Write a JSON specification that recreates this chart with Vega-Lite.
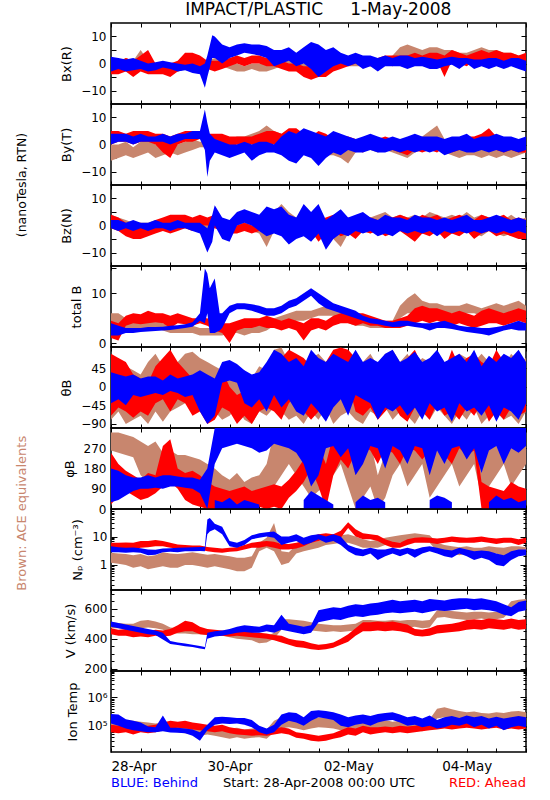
{
"$schema":"https://vega.github.io/schema/vega-lite/v6.json",
"padding":{"left":15,"top":0,"right":5,"bottom":5},
"bounds":"flush",
"spacing":0,
"title":{"text":"IMPACT/PLASTIC\u00a0\u00a0\u00a0\u00a0\u00a01-May-2008","anchor":"middle","offset":3,"dx":47},
"config":{
 "font":"DejaVu Sans",
 "view":{"stroke":"black","strokeWidth":1.5},
 "concat":{"spacing":0},
 "axis":{"domain":false,"grid":false,"tickColor":"black","tickWidth":1,"labelFont":"DejaVu Sans","labelFontSize":12,"labelColor":"black","titleFont":"DejaVu Sans","titleFontSize":13,"titleFontWeight":"normal","titleColor":"black"},
 "axisY":{"tickSize":-5,"labelPadding":10,"titlePadding":7},
 "axisX":{"tickSize":-4,"labelPadding":11,"titlePadding":4,"labelFontSize":13.5,"titleFontSize":13},
 "title":{"font":"DejaVu Sans","fontSize":17,"fontWeight":"normal","color":"black"}
},
"vconcat":[
{"width":415,"height":81,"data":{"name":"bx"},"layer":[
 {"mark":{"type":"area","color":"#c8866e","invalid":"filter","clip":true},"encoding":{"x":{"field":"t","type":"quantitative","scale":{"domain":[0,168],"nice":false,"zero":false},"axis":{"orient":"bottom","values":[0,12,24,36,48,60,72,84,96,108,120,132,144,156,168],"labels":false,"title":null}},"y":{"field":"al","type":"quantitative","scale":{"domain":[-15,15],"nice":false,"zero":false},"axis":{"orient":"left","title":"Bx(R)","values":[-10,-5,0,5,10],"labelExpr":"datum.value % 10 == 0 ? datum.label : ''"}},"y2":{"field":"ah"}}},
 {"mark":{"type":"area","color":"#ff0000","invalid":"filter","clip":true},"encoding":{"x":{"field":"t","type":"quantitative","axis":{"orient":"top","values":[0,12,24,36,48,60,72,84,96,108,120,132,144,156,168],"labels":false,"title":null}},"y":{"field":"rl","type":"quantitative","axis":{"orient":"right","values":[-10,-5,0,5,10],"labels":false,"title":null}},"y2":{"field":"rh"}}},
 {"mark":{"type":"area","color":"#0000ff","invalid":"filter","clip":true},"encoding":{"x":{"field":"t","type":"quantitative","axis":null},"y":{"field":"bl","type":"quantitative","axis":null},"y2":{"field":"bh"}}}
],"resolve":{"axis":{"x":"independent","y":"independent"}}},
{"width":415,"height":81,"data":{"name":"by"},"layer":[
 {"mark":{"type":"area","color":"#c8866e","invalid":"filter","clip":true},"encoding":{"x":{"field":"t","type":"quantitative","scale":{"domain":[0,168],"nice":false,"zero":false},"axis":{"orient":"bottom","values":[0,12,24,36,48,60,72,84,96,108,120,132,144,156,168],"labels":false,"title":null}},"y":{"field":"al","type":"quantitative","scale":{"domain":[-15,15],"nice":false,"zero":false},"axis":{"orient":"left","title":"By(T)","values":[-10,-5,0,5,10],"labelExpr":"datum.value % 10 == 0 ? datum.label : ''"}},"y2":{"field":"ah"}}},
 {"mark":{"type":"area","color":"#ff0000","invalid":"filter","clip":true},"encoding":{"x":{"field":"t","type":"quantitative","axis":{"orient":"top","values":[0,12,24,36,48,60,72,84,96,108,120,132,144,156,168],"labels":false,"title":null}},"y":{"field":"rl","type":"quantitative","axis":{"orient":"right","values":[-10,-5,0,5,10],"labels":false,"title":null}},"y2":{"field":"rh"}}},
 {"mark":{"type":"area","color":"#0000ff","invalid":"filter","clip":true},"encoding":{"x":{"field":"t","type":"quantitative","axis":null},"y":{"field":"bl","type":"quantitative","axis":null},"y2":{"field":"bh"}}},
 {"data":{"values":[{"label":"(nanoTesla, RTN)"}]},"mark":{"type":"text","angle":270,"align":"center","baseline":"middle","font":"DejaVu Sans","fontSize":12.5,"color":"black"},"encoding":{"text":{"field":"label"},"x":{"datum":-36,"type":"quantitative","axis":null},"y":{"datum":-15,"type":"quantitative","axis":null}}}
],"resolve":{"axis":{"x":"independent","y":"independent"}}},
{"width":415,"height":81,"data":{"name":"bz"},"layer":[
 {"mark":{"type":"area","color":"#c8866e","invalid":"filter","clip":true},"encoding":{"x":{"field":"t","type":"quantitative","scale":{"domain":[0,168],"nice":false,"zero":false},"axis":{"orient":"bottom","values":[0,12,24,36,48,60,72,84,96,108,120,132,144,156,168],"labels":false,"title":null}},"y":{"field":"al","type":"quantitative","scale":{"domain":[-15,15],"nice":false,"zero":false},"axis":{"orient":"left","title":"Bz(N)","values":[-10,-5,0,5,10],"labelExpr":"datum.value % 10 == 0 ? datum.label : ''"}},"y2":{"field":"ah"}}},
 {"mark":{"type":"area","color":"#ff0000","invalid":"filter","clip":true},"encoding":{"x":{"field":"t","type":"quantitative","axis":{"orient":"top","values":[0,12,24,36,48,60,72,84,96,108,120,132,144,156,168],"labels":false,"title":null}},"y":{"field":"rl","type":"quantitative","axis":{"orient":"right","values":[-10,-5,0,5,10],"labels":false,"title":null}},"y2":{"field":"rh"}}},
 {"mark":{"type":"area","color":"#0000ff","invalid":"filter","clip":true},"encoding":{"x":{"field":"t","type":"quantitative","axis":null},"y":{"field":"bl","type":"quantitative","axis":null},"y2":{"field":"bh"}}}
],"resolve":{"axis":{"x":"independent","y":"independent"}}},
{"width":415,"height":81,"data":{"name":"bt"},"layer":[
 {"mark":{"type":"area","color":"#c8866e","invalid":"filter","clip":true},"encoding":{"x":{"field":"t","type":"quantitative","scale":{"domain":[0,168],"nice":false,"zero":false},"axis":{"orient":"bottom","values":[0,12,24,36,48,60,72,84,96,108,120,132,144,156,168],"labels":false,"title":null}},"y":{"field":"al","type":"quantitative","scale":{"domain":[-0.8,15.5],"nice":false,"zero":false},"axis":{"orient":"left","title":"total B","values":[0,5,10,15],"labelExpr":"datum.value % 10 == 0 ? datum.label : ''"}},"y2":{"field":"ah"}}},
 {"mark":{"type":"area","color":"#ff0000","invalid":"filter","clip":true},"encoding":{"x":{"field":"t","type":"quantitative","axis":{"orient":"top","values":[0,12,24,36,48,60,72,84,96,108,120,132,144,156,168],"labels":false,"title":null}},"y":{"field":"rl","type":"quantitative","axis":{"orient":"right","values":[0,5,10,15],"labels":false,"title":null}},"y2":{"field":"rh"}}},
 {"mark":{"type":"area","color":"#0000ff","invalid":"filter","clip":true},"encoding":{"x":{"field":"t","type":"quantitative","axis":null},"y":{"field":"bl","type":"quantitative","axis":null},"y2":{"field":"bh"}}}
],"resolve":{"axis":{"x":"independent","y":"independent"}}},
{"width":415,"height":81,"data":{"name":"th"},"layer":[
 {"mark":{"type":"area","color":"#c8866e","invalid":"filter","clip":true},"encoding":{"x":{"field":"t","type":"quantitative","scale":{"domain":[0,168],"nice":false,"zero":false},"axis":{"orient":"bottom","values":[0,12,24,36,48,60,72,84,96,108,120,132,144,156,168],"labels":false,"title":null}},"y":{"field":"al","type":"quantitative","scale":{"domain":[-100,96.5],"nice":false,"zero":false},"axis":{"orient":"left","title":"θB","values":[-90,-45,0,45]}},"y2":{"field":"ah"}}},
 {"mark":{"type":"area","color":"#ff0000","invalid":"filter","clip":true},"encoding":{"x":{"field":"t","type":"quantitative","axis":{"orient":"top","values":[0,12,24,36,48,60,72,84,96,108,120,132,144,156,168],"labels":false,"title":null}},"y":{"field":"rl","type":"quantitative","axis":{"orient":"right","values":[-90,-45,0,45],"labels":false,"title":null}},"y2":{"field":"rh"}}},
 {"mark":{"type":"area","color":"#0000ff","invalid":"filter","clip":true},"encoding":{"x":{"field":"t","type":"quantitative","axis":null},"y":{"field":"bl","type":"quantitative","axis":null},"y2":{"field":"bh"}}}
],"resolve":{"axis":{"x":"independent","y":"independent"}}},
{"width":415,"height":81,"data":{"name":"ph"},"layer":[
 {"mark":{"type":"area","color":"#c8866e","invalid":"filter","clip":true},"encoding":{"x":{"field":"t","type":"quantitative","scale":{"domain":[0,168],"nice":false,"zero":false},"axis":{"orient":"bottom","values":[0,12,24,36,48,60,72,84,96,108,120,132,144,156,168],"labels":false,"title":null}},"y":{"field":"al","type":"quantitative","scale":{"domain":[0,360],"nice":false,"zero":false},"axis":{"orient":"left","title":"φB","values":[0,90,180,270]}},"y2":{"field":"ah"}}},
 {"mark":{"type":"area","color":"#ff0000","invalid":"filter","clip":true},"encoding":{"x":{"field":"t","type":"quantitative","axis":{"orient":"top","values":[0,12,24,36,48,60,72,84,96,108,120,132,144,156,168],"labels":false,"title":null}},"y":{"field":"rl","type":"quantitative","axis":{"orient":"right","values":[0,90,180,270],"labels":false,"title":null}},"y2":{"field":"rh"}}},
 {"mark":{"type":"area","color":"#0000ff","invalid":"filter","clip":true},"encoding":{"x":{"field":"t","type":"quantitative","axis":null},"y":{"field":"bl","type":"quantitative","axis":null},"y2":{"field":"bh"}}},
 {"data":{"name":"ph2"},"mark":{"type":"area","color":"#0000ff","invalid":"filter","clip":true},"encoding":{"x":{"field":"t","type":"quantitative","axis":null},"y":{"field":"lo","type":"quantitative","axis":null},"y2":{"field":"hi"},"detail":{"field":"g"}}}
],"resolve":{"axis":{"x":"independent","y":"independent"}}},
{"width":415,"height":81,"data":{"name":"np"},"layer":[
 {"mark":{"type":"area","color":"#c8866e","invalid":"filter","clip":true},"encoding":{"x":{"field":"t","type":"quantitative","scale":{"domain":[0,168],"nice":false,"zero":false},"axis":{"orient":"bottom","values":[0,12,24,36,48,60,72,84,96,108,120,132,144,156,168],"labels":false,"title":null}},"y":{"field":"al","type":"quantitative","scale":{"type":"log","domain":[0.131,93],"nice":false},"axis":{"orient":"left","title":"Nₚ (cm⁻³)","values":[0.2,0.3,0.4,0.5,0.6,0.7,0.8,0.9,1,2,3,4,5,6,7,8,9,10,20,30,40,50,60,70,80,90],"labelExpr":"datum.value==1?'1':datum.value==10?'10':''","tickSize":{"condition":{"test":"datum.value==1||datum.value==10","value":-6},"value":-3}}},"y2":{"field":"ah"}}},
 {"mark":{"type":"area","color":"#ff0000","invalid":"filter","clip":true},"encoding":{"x":{"field":"t","type":"quantitative","axis":{"orient":"top","values":[0,12,24,36,48,60,72,84,96,108,120,132,144,156,168],"labels":false,"title":null}},"y":{"field":"rl","type":"quantitative","axis":{"orient":"right","values":[0.2,0.3,0.4,0.5,0.6,0.7,0.8,0.9,1,2,3,4,5,6,7,8,9,10,20,30,40,50,60,70,80,90],"labels":false,"title":null,"tickSize":{"condition":{"test":"datum.value==1||datum.value==10","value":-6},"value":-3}}},"y2":{"field":"rh"}}},
 {"mark":{"type":"area","color":"#0000ff","invalid":"filter","clip":true},"encoding":{"x":{"field":"t","type":"quantitative","axis":null},"y":{"field":"bl","type":"quantitative","axis":null},"y2":{"field":"bh"}}},
 {"data":{"values":[{"label":"Brown: ACE equivalents"}]},"mark":{"type":"text","angle":270,"align":"center","baseline":"middle","font":"DejaVu Sans","fontSize":13,"color":"#c8866e"},"encoding":{"text":{"field":"label"},"x":{"datum":-36,"type":"quantitative","axis":null},"y":{"datum":66,"type":"quantitative","axis":null}}}
],"resolve":{"axis":{"x":"independent","y":"independent"}}},
{"width":415,"height":81,"data":{"name":"vv"},"layer":[
 {"mark":{"type":"area","color":"#c8866e","invalid":"filter","clip":true},"encoding":{"x":{"field":"t","type":"quantitative","scale":{"domain":[0,168],"nice":false,"zero":false},"axis":{"orient":"bottom","values":[0,12,24,36,48,60,72,84,96,108,120,132,144,156,168],"labels":false,"title":null}},"y":{"field":"al","type":"quantitative","scale":{"domain":[185,725],"nice":false,"zero":false},"axis":{"orient":"left","title":"V (km/s)","values":[200,250,300,350,400,450,500,550,600,650,700],"labelExpr":"datum.value % 200 == 0 ? datum.label : ''","tickSize":{"condition":{"test":"datum.value % 200 == 0","value":-6},"value":-3}}},"y2":{"field":"ah"}}},
 {"mark":{"type":"area","color":"#ff0000","invalid":"filter","clip":true},"encoding":{"x":{"field":"t","type":"quantitative","axis":{"orient":"top","values":[0,12,24,36,48,60,72,84,96,108,120,132,144,156,168],"labels":false,"title":null}},"y":{"field":"rl","type":"quantitative","axis":{"orient":"right","values":[200,250,300,350,400,450,500,550,600,650,700],"labels":false,"title":null,"tickSize":{"condition":{"test":"datum.value % 200 == 0","value":-6},"value":-3}}},"y2":{"field":"rh"}}},
 {"mark":{"type":"area","color":"#0000ff","invalid":"filter","clip":true},"encoding":{"x":{"field":"t","type":"quantitative","axis":null},"y":{"field":"bl","type":"quantitative","axis":null},"y2":{"field":"bh"}}}
],"resolve":{"axis":{"x":"independent","y":"independent"}}},
{"width":415,"height":81,"data":{"name":"tp"},"layer":[
 {"mark":{"type":"area","color":"#c8866e","invalid":"filter","clip":true},"encoding":{"x":{"field":"t","type":"quantitative","scale":{"domain":[0,168],"nice":false,"zero":false},"axis":{"orient":"bottom","values":[0,12,24,36,48,60,72,84,96,108,120,132,144,156,168],"title":"Start: 28-Apr-2008 00:00 UTC","labelExpr":"datum.value==0?'28-Apr':datum.value==48?'30-Apr':datum.value==96?'02-May':datum.value==144?'04-May':''"}},"y":{"field":"al","type":"quantitative","scale":{"type":"log","domain":[12000,8500000],"nice":false},"axis":{"orient":"left","title":"Ion Temp","values":[20000,30000,40000,50000,60000,70000,80000,90000,100000,200000,300000,400000,500000,600000,700000,800000,900000,1000000,2000000,3000000,4000000,5000000,6000000,7000000,8000000],"labelExpr":"datum.value==100000?'10⁵':datum.value==1000000?'10⁶':''","tickSize":{"condition":{"test":"datum.value==100000||datum.value==1000000","value":-6},"value":-3}}},"y2":{"field":"ah"}}},
 {"mark":{"type":"area","color":"#ff0000","invalid":"filter","clip":true},"encoding":{"x":{"field":"t","type":"quantitative","axis":{"orient":"top","values":[0,12,24,36,48,60,72,84,96,108,120,132,144,156,168],"labels":false,"title":null}},"y":{"field":"rl","type":"quantitative","axis":{"orient":"right","values":[20000,30000,40000,50000,60000,70000,80000,90000,100000,200000,300000,400000,500000,600000,700000,800000,900000,1000000,2000000,3000000,4000000,5000000,6000000,7000000,8000000],"labels":false,"title":null,"tickSize":{"condition":{"test":"datum.value==100000||datum.value==1000000","value":-6},"value":-3}}},"y2":{"field":"rh"}}},
 {"mark":{"type":"area","color":"#0000ff","invalid":"filter","clip":true},"encoding":{"x":{"field":"t","type":"quantitative","axis":null},"y":{"field":"bl","type":"quantitative","axis":null},"y2":{"field":"bh"}}},
 {"data":{"values":[{"label":"BLUE: Behind"}]},"mark":{"type":"text","align":"left","baseline":"alphabetic","font":"DejaVu Sans","fontSize":13,"color":"#0000ff"},"encoding":{"text":{"field":"label"},"x":{"datum":0,"type":"quantitative","axis":null},"y":{"datum":700,"type":"quantitative","axis":null}}},
 {"data":{"values":[{"label":"RED: Ahead"}]},"mark":{"type":"text","align":"right","baseline":"alphabetic","font":"DejaVu Sans","fontSize":13,"color":"#ff0000"},"encoding":{"text":{"field":"label"},"x":{"datum":168,"type":"quantitative","axis":null},"y":{"datum":700,"type":"quantitative","axis":null}}}
],"resolve":{"axis":{"x":"independent","y":"independent"}}}
],
"datasets":{
"bx":[
{"t":0,"al":-4,"ah":1,"rl":-4,"rh":1,"bl":-3,"bh":2.5},
{"t":3,"al":-3,"ah":1,"rl":-4,"rh":0,"bl":-2,"bh":2},
{"t":6,"al":-2,"ah":2,"rl":-3,"rh":2,"bl":-3,"bh":1.5},
{"t":9,"al":-2,"ah":1,"rl":-5,"rh":1,"bl":-2.5,"bh":2},
{"t":12,"al":-2,"ah":5,"rl":-3,"rh":3,"bl":-2,"bh":1},
{"t":15,"al":-3,"ah":1,"rl":-4,"rh":5,"bl":-3,"bh":0},
{"t":18,"al":-3,"ah":0,"rl":-4,"rh":0,"bl":-2.5,"bh":0.5},
{"t":21,"al":-3,"ah":0,"rl":-4,"rh":-1,"bl":-1.5,"bh":1},
{"t":24,"al":-3,"ah":0,"rl":-5,"rh":0,"bl":-2,"bh":0.5},
{"t":27,"al":-3,"ah":0,"rl":-3,"rh":1,"bl":-3,"bh":0},
{"t":30,"al":-2,"ah":0,"rl":-2,"rh":4,"bl":-2.5,"bh":-0.5},
{"t":33,"al":-2,"ah":1,"rl":-1,"rh":4,"bl":-3.5,"bh":0},
{"t":36,"al":-2,"ah":1,"rl":-2,"rh":3,"bl":-4,"bh":-1},
{"t":38,"bl":-9,"bh":0},
{"t":39,"al":-1,"ah":1,"rl":-2,"rh":1,"bl":-5,"bh":3},
{"t":41,"bl":2,"bh":10.5},
{"t":42,"al":0,"ah":2,"rl":-3,"rh":1,"bl":2,"bh":10},
{"t":45,"al":-1,"ah":1,"rl":-2,"rh":1,"bl":0,"bh":7},
{"t":48,"al":-2,"ah":1,"rl":-1,"rh":2,"bl":2,"bh":6},
{"t":51,"al":-3,"ah":0,"rl":0,"rh":3,"bl":3,"bh":7},
{"t":54,"al":-3,"ah":-1,"rl":-1,"rh":2,"bl":4,"bh":7.5},
{"t":57,"al":-2,"ah":0,"rl":0,"rh":3,"bl":3.5,"bh":7},
{"t":60,"al":-3,"ah":0,"rl":0,"rh":3,"bl":3,"bh":7},
{"t":63,"al":-3,"ah":1,"rl":-1,"rh":2,"bl":2,"bh":6.5},
{"t":66,"al":-2,"ah":2,"rl":-1,"rh":2,"bl":-1,"bh":5},
{"t":69,"al":-1,"ah":2,"rl":-2,"rh":1,"bl":0,"bh":5},
{"t":72,"al":-1,"ah":1,"rl":-3,"rh":0,"bl":1,"bh":6},
{"t":75,"al":-1,"ah":2,"rl":-3,"rh":0,"bl":-1,"bh":4},
{"t":78,"al":-2,"ah":0,"rl":-5,"rh":-1,"bl":0,"bh":6},
{"t":81,"al":-4,"ah":-1,"rl":-6,"rh":-1,"bl":-2,"bh":8},
{"t":84,"al":-3,"ah":0,"rl":-5,"rh":-2,"bl":-5,"bh":7},
{"t":87,"al":-2,"ah":1,"rl":-5,"rh":-2,"bl":-3,"bh":5},
{"t":90,"al":-2,"ah":1,"rl":-3,"rh":0,"bl":-1,"bh":6},
{"t":93,"al":-1,"ah":2,"rl":-2,"rh":1,"bl":0,"bh":4},
{"t":96,"al":-1,"ah":2,"rl":-1,"rh":2,"bl":-1,"bh":3},
{"t":99,"al":-1,"ah":2,"rl":0,"rh":2,"bl":0,"bh":4},
{"t":102,"al":-1,"ah":1,"rl":0,"rh":2,"bl":-2,"bh":3},
{"t":105,"al":-1,"ah":1,"rl":-1,"rh":2,"bl":-1,"bh":3},
{"t":108,"al":-1,"ah":2,"rl":-1,"rh":2,"bl":-3,"bh":2},
{"t":111,"al":0,"ah":2,"rl":0,"rh":3,"bl":-1,"bh":3},
{"t":114,"al":0,"ah":3,"rl":-1,"rh":3,"bl":-1,"bh":2},
{"t":117,"al":2,"ah":6,"rl":0,"rh":3,"bl":-1,"bh":3},
{"t":120,"al":2,"ah":7,"rl":-1,"rh":3,"bl":-2,"bh":3},
{"t":123,"al":1,"ah":6,"rl":0,"rh":4,"bl":-1,"bh":2},
{"t":126,"al":1,"ah":5,"rl":1,"rh":3,"bl":-1,"bh":2.5},
{"t":129,"al":2,"ah":6,"rl":0,"rh":4,"bl":-2,"bh":2},
{"t":132,"al":1,"ah":6,"rl":1,"rh":4,"bl":-2,"bh":1.5},
{"t":135,"al":1,"ah":5,"rl":-5,"rh":3,"bl":-1,"bh":2},
{"t":138,"al":1,"ah":5,"rl":1,"rh":5,"bl":-0.5,"bh":2.5},
{"t":141,"al":1,"ah":4,"rl":0,"rh":4,"bl":-2,"bh":2},
{"t":144,"al":1,"ah":4,"rl":-1,"rh":3,"bl":0,"bh":2},
{"t":147,"al":1,"ah":5,"rl":1,"rh":4,"bl":-2,"bh":1.5},
{"t":150,"al":1,"ah":6,"rl":1,"rh":5,"bl":-1,"bh":1.5},
{"t":153,"al":2,"ah":5,"rl":1,"rh":4,"bl":-2,"bh":2},
{"t":156,"al":1,"ah":5,"rl":2,"rh":5,"bl":-1,"bh":2},
{"t":159,"al":0,"ah":4,"rl":0,"rh":4,"bl":-2,"bh":1},
{"t":162,"al":0,"ah":4,"rl":1,"rh":4,"bl":-1,"bh":2},
{"t":165,"al":0,"ah":3,"rl":0,"rh":3,"bl":-2,"bh":2},
{"t":168,"al":0,"ah":3,"rl":0,"rh":4,"bl":-3,"bh":1}
],
"by":[
{"t":0,"al":-6,"ah":0,"rl":0,"rh":5,"bl":0,"bh":4},
{"t":3,"al":-5,"ah":0,"rl":1,"rh":5,"bl":1,"bh":4},
{"t":6,"al":-4,"ah":1,"rl":1,"rh":4,"bl":1,"bh":4},
{"t":9,"al":-5,"ah":-1,"rl":0,"rh":5,"bl":0,"bh":3},
{"t":12,"al":-4,"ah":1,"rl":1,"rh":5,"bl":1,"bh":4},
{"t":15,"al":-3,"ah":2,"rl":1,"rh":5,"bl":1,"bh":3},
{"t":18,"al":-5,"ah":0,"rl":0,"rh":4,"bl":1,"bh":3},
{"t":21,"al":-4,"ah":1,"rl":-3,"rh":4,"bl":1,"bh":4},
{"t":24,"al":-3,"ah":1,"rl":-5,"rh":3,"bl":0,"bh":3},
{"t":27,"al":-4,"ah":0,"rl":0,"rh":4,"bl":1,"bh":4},
{"t":30,"al":-3,"ah":1,"rl":1,"rh":5,"bl":2,"bh":4},
{"t":33,"al":-2,"ah":2,"rl":1,"rh":5,"bl":2,"bh":5},
{"t":36,"al":-1,"ah":1,"rl":2,"rh":5,"bl":2,"bh":5},
{"t":38,"bl":-2,"bh":13},
{"t":39,"al":-1,"ah":1,"rl":2,"rh":4,"bl":-12,"bh":8},
{"t":40,"bl":-6,"bh":4},
{"t":42,"al":-1,"ah":2,"rl":0,"rh":4,"bl":-3,"bh":2},
{"t":45,"al":0,"ah":2,"rl":0,"rh":4,"bl":-4,"bh":1},
{"t":48,"al":0,"ah":2,"rl":-1,"rh":3,"bl":-5,"bh":0},
{"t":51,"al":0,"ah":3,"rl":0,"rh":3,"bl":-4,"bh":0},
{"t":54,"al":0,"ah":3,"rl":-1,"rh":3,"bl":-3,"bh":1},
{"t":57,"al":1,"ah":4,"rl":0,"rh":3,"bl":-6,"bh":0},
{"t":60,"al":2,"ah":5,"rl":-1,"rh":4,"bl":-4,"bh":1},
{"t":63,"al":3,"ah":7,"rl":0,"rh":5,"bl":-3,"bh":1},
{"t":66,"al":1,"ah":5,"rl":0,"rh":5,"bl":-3,"bh":0},
{"t":69,"al":0,"ah":4,"rl":-2,"rh":4,"bl":-4,"bh":3},
{"t":72,"al":-1,"ah":3,"rl":1,"rh":6,"bl":-6,"bh":5},
{"t":75,"al":-2,"ah":2,"rl":0,"rh":6,"bl":-7,"bh":4},
{"t":78,"al":-2,"ah":2,"rl":-1,"rh":4,"bl":-4,"bh":6},
{"t":81,"al":-3,"ah":1,"rl":-3,"rh":3,"bl":-5,"bh":5},
{"t":84,"al":-2,"ah":2,"rl":-3,"rh":5,"bl":-8,"bh":4},
{"t":87,"al":-4,"ah":2,"rl":-2,"rh":4,"bl":-5,"bh":3},
{"t":90,"al":-4,"ah":1,"rl":-2,"rh":2,"bl":-3,"bh":5},
{"t":93,"al":-5,"ah":0,"rl":-1,"rh":3,"bl":-4,"bh":4},
{"t":96,"al":-7,"ah":0,"rl":-2,"rh":3,"bl":-2,"bh":3},
{"t":99,"al":-3,"ah":1,"rl":-2,"rh":2,"bl":-3,"bh":2},
{"t":102,"al":-2,"ah":2,"rl":-3,"rh":2,"bl":-3,"bh":3},
{"t":105,"al":-2,"ah":1,"rl":-1,"rh":3,"bl":-2,"bh":4},
{"t":108,"al":-3,"ah":1,"rl":-2,"rh":2,"bl":-3,"bh":3},
{"t":111,"al":-2,"ah":2,"rl":-1,"rh":3,"bl":-3,"bh":2},
{"t":114,"al":-3,"ah":1,"rl":-2,"rh":2,"bl":-2,"bh":3},
{"t":117,"al":-4,"ah":1,"rl":-3,"rh":1,"bl":-3,"bh":2},
{"t":120,"al":-5,"ah":0,"rl":-4,"rh":1,"bl":-2,"bh":3},
{"t":123,"al":-3,"ah":2,"rl":-2,"rh":3,"bl":-3,"bh":4},
{"t":126,"al":-2,"ah":3,"rl":-3,"rh":2,"bl":-2,"bh":3},
{"t":129,"al":-1,"ah":5,"rl":-2,"rh":2,"bl":-3,"bh":3},
{"t":132,"al":0,"ah":7,"rl":-3,"rh":1,"bl":-2,"bh":3},
{"t":135,"al":-3,"ah":2,"rl":-1,"rh":2,"bl":-4,"bh":2},
{"t":138,"al":-4,"ah":0,"rl":-3,"rh":2,"bl":-3,"bh":3},
{"t":141,"al":-5,"ah":-1,"rl":-2,"rh":2,"bl":-2,"bh":3},
{"t":144,"al":-4,"ah":0,"rl":-1,"rh":3,"bl":-3,"bh":4},
{"t":147,"al":-4,"ah":-1,"rl":-2,"rh":3,"bl":-3,"bh":2},
{"t":150,"al":-5,"ah":-1,"rl":0,"rh":4,"bl":-2,"bh":3},
{"t":153,"al":-4,"ah":0,"rl":-1,"rh":6,"bl":-3,"bh":3},
{"t":156,"al":-5,"ah":-1,"rl":-2,"rh":3,"bl":-2,"bh":4},
{"t":159,"al":-4,"ah":0,"rl":-3,"rh":2,"bl":-3,"bh":3},
{"t":162,"al":-5,"ah":-1,"rl":-2,"rh":2,"bl":-2,"bh":3},
{"t":165,"al":-4,"ah":0,"rl":-3,"rh":1,"bl":-3,"bh":2},
{"t":168,"al":-3,"ah":0,"rl":-3,"rh":2,"bl":-2,"bh":3}
],
"bz":[
{"t":0,"al":0,"ah":4,"rl":-1,"rh":4,"bl":-1,"bh":2},
{"t":3,"al":0,"ah":3,"rl":-2,"rh":3,"bl":-2,"bh":2},
{"t":6,"al":-2,"ah":2,"rl":-4,"rh":1,"bl":-1,"bh":1},
{"t":9,"al":-3,"ah":1,"rl":-5,"rh":0,"bl":-2,"bh":2},
{"t":12,"al":-2,"ah":1,"rl":-5,"rh":1,"bl":-1,"bh":1},
{"t":15,"al":-2,"ah":1,"rl":-4,"rh":0,"bl":-2,"bh":1},
{"t":18,"al":-1,"ah":2,"rl":-3,"rh":2,"bl":-1,"bh":2},
{"t":21,"al":-1,"ah":1,"rl":-2,"rh":3,"bl":-1,"bh":1},
{"t":24,"al":-2,"ah":1,"rl":-3,"rh":4,"bl":-2,"bh":1},
{"t":27,"al":-1,"ah":2,"rl":-2,"rh":4,"bl":-1,"bh":2},
{"t":30,"al":-1,"ah":1,"rl":-1,"rh":4,"bl":-1,"bh":1},
{"t":33,"al":-1,"ah":1,"rl":-2,"rh":3,"bl":-2,"bh":1},
{"t":36,"al":-1,"ah":1,"rl":0,"rh":4,"bl":-3,"bh":1},
{"t":39,"al":-1,"ah":1,"rl":0,"rh":3,"bl":-10,"bh":-1},
{"t":41,"bl":-6,"bh":4},
{"t":42,"al":-1,"ah":1,"rl":-1,"rh":4,"bl":0,"bh":7.5},
{"t":45,"al":-1,"ah":2,"rl":-2,"rh":2,"bl":-5,"bh":3},
{"t":48,"al":-1,"ah":2,"rl":-3,"rh":1,"bl":-6,"bh":2},
{"t":51,"al":-1,"ah":2,"rl":-3,"rh":0,"bl":0,"bh":5},
{"t":54,"al":-1,"ah":1,"rl":-2,"rh":1,"bl":1,"bh":6},
{"t":57,"al":-2,"ah":2,"rl":-3,"rh":0,"bl":0,"bh":5},
{"t":60,"al":-3,"ah":1,"rl":-2,"rh":1,"bl":-2,"bh":4},
{"t":63,"al":-8,"ah":0,"rl":-3,"rh":1,"bl":-4,"bh":7},
{"t":66,"al":-2,"ah":5,"rl":-2,"rh":2,"bl":-3,"bh":6},
{"t":69,"al":0,"ah":8,"rl":-3,"rh":3,"bl":-4,"bh":7},
{"t":72,"al":-2,"ah":5,"rl":-2,"rh":4,"bl":-7,"bh":4},
{"t":75,"al":-3,"ah":3,"rl":-4,"rh":2,"bl":-5,"bh":3},
{"t":78,"al":-2,"ah":4,"rl":-3,"rh":5,"bl":-4,"bh":8},
{"t":81,"al":-3,"ah":2,"rl":-2,"rh":4,"bl":-6,"bh":5},
{"t":84,"al":-2,"ah":3,"rl":-6,"rh":2,"bl":-3,"bh":8},
{"t":87,"al":-4,"ah":2,"rl":-3,"rh":3,"bl":-9,"bh":2},
{"t":90,"al":-5,"ah":3,"rl":-2,"rh":4,"bl":-5,"bh":4},
{"t":93,"al":-8,"ah":1,"rl":-4,"rh":2,"bl":-3,"bh":6},
{"t":96,"al":-3,"ah":2,"rl":-3,"rh":3,"bl":-4,"bh":3},
{"t":99,"al":-2,"ah":3,"rl":-5,"rh":2,"bl":-2,"bh":4},
{"t":102,"al":-2,"ah":4,"rl":-2,"rh":4,"bl":-3,"bh":5},
{"t":105,"al":-3,"ah":3,"rl":-3,"rh":3,"bl":-2,"bh":3},
{"t":108,"al":-1,"ah":4,"rl":-2,"rh":2,"bl":-4,"bh":2},
{"t":111,"al":-2,"ah":5,"rl":-4,"rh":2,"bl":-3,"bh":4},
{"t":114,"al":-3,"ah":3,"rl":-3,"rh":3,"bl":-4,"bh":3},
{"t":117,"al":-2,"ah":4,"rl":-2,"rh":4,"bl":-2,"bh":3},
{"t":120,"al":-3,"ah":3,"rl":-4,"rh":3,"bl":-3,"bh":2},
{"t":123,"al":-2,"ah":4,"rl":-6,"rh":2,"bl":-2,"bh":4},
{"t":126,"al":-3,"ah":3,"rl":-3,"rh":4,"bl":-3,"bh":3},
{"t":129,"al":-2,"ah":5,"rl":-4,"rh":3,"bl":-2,"bh":3},
{"t":132,"al":-1,"ah":4,"rl":-2,"rh":4,"bl":-4,"bh":2},
{"t":135,"al":-3,"ah":3,"rl":-5,"rh":2,"bl":-2,"bh":3},
{"t":138,"al":-2,"ah":4,"rl":-3,"rh":3,"bl":-3,"bh":2},
{"t":141,"al":-3,"ah":3,"rl":-4,"rh":4,"bl":-2,"bh":3},
{"t":144,"al":-2,"ah":5,"rl":-2,"rh":3,"bl":-3,"bh":4},
{"t":147,"al":-3,"ah":3,"rl":-5,"rh":2,"bl":-2,"bh":2},
{"t":150,"al":-4,"ah":4,"rl":-3,"rh":4,"bl":-3,"bh":2},
{"t":153,"al":-2,"ah":3,"rl":-2,"rh":3,"bl":-2,"bh":3},
{"t":156,"al":-3,"ah":3,"rl":-4,"rh":3,"bl":-3,"bh":4},
{"t":159,"al":-4,"ah":2,"rl":-3,"rh":4,"bl":-2,"bh":3},
{"t":162,"al":-3,"ah":4,"rl":-4,"rh":2,"bl":-3,"bh":2},
{"t":165,"al":-4,"ah":2,"rl":-5,"rh":3,"bl":-2,"bh":3},
{"t":168,"al":-3,"ah":3,"rl":-5,"rh":2,"bl":-3,"bh":2}
],
"bt":[
{"t":0,"al":3,"ah":6,"rl":1,"rh":4.5,"bl":1.5,"bh":4},
{"t":3,"al":3,"ah":6,"rl":0.5,"rh":4,"bl":1.5,"bh":3.5},
{"t":6,"al":2.5,"ah":5,"rl":3.5,"rh":5.5,"bl":2,"bh":3},
{"t":9,"al":3,"ah":5,"rl":4,"rh":6,"bl":2,"bh":3},
{"t":12,"al":3,"ah":5,"rl":3.8,"rh":5.8,"bl":2.2,"bh":3},
{"t":15,"al":3,"ah":4.5,"rl":4,"rh":6.5,"bl":2.3,"bh":3.2},
{"t":18,"al":3,"ah":4.5,"rl":4.2,"rh":6,"bl":2.4,"bh":3.2},
{"t":21,"al":2.5,"ah":4,"rl":4,"rh":6,"bl":2.5,"bh":3.3},
{"t":24,"al":2,"ah":3.5,"rl":3,"rh":5.5,"bl":2.6,"bh":3.5},
{"t":27,"al":2,"ah":3.5,"rl":4,"rh":6,"bl":2.8,"bh":3.6},
{"t":30,"al":2,"ah":3.5,"rl":3.8,"rh":5.5,"bl":3,"bh":3.8},
{"t":33,"al":2,"ah":3.5,"rl":3.5,"rh":5,"bl":3.3,"bh":4.2},
{"t":36,"al":1.5,"ah":3,"rl":4,"rh":5,"bl":4.5,"bh":6},
{"t":38,"bl":4,"bh":15},
{"t":39,"al":1.5,"ah":3,"rl":3.5,"rh":5,"bl":6,"bh":14},
{"t":40,"bl":2,"bh":11},
{"t":42,"al":1.5,"ah":3,"rl":2.5,"rh":4,"bl":2,"bh":13},
{"t":44,"bl":2.5,"bh":6},
{"t":45,"al":1.5,"ah":2.8,"rl":2,"rh":4,"bl":3,"bh":6},
{"t":46,"bl":4,"bh":6.5},
{"t":48,"al":2,"ah":3.5,"rl":0,"rh":4,"bl":6,"bh":7.5},
{"t":51,"al":2,"ah":3.5,"rl":2.5,"rh":4.5,"bl":6.8,"bh":8},
{"t":54,"al":1.5,"ah":3,"rl":3,"rh":5,"bl":6.8,"bh":8},
{"t":57,"al":2,"ah":3.5,"rl":3,"rh":5,"bl":6.5,"bh":7.8},
{"t":60,"al":2,"ah":4,"rl":3.5,"rh":5,"bl":6,"bh":7.5},
{"t":63,"al":2.5,"ah":4,"rl":3,"rh":5.5,"bl":5.5,"bh":7},
{"t":66,"al":3.5,"ah":5,"rl":3,"rh":5,"bl":5.5,"bh":7},
{"t":69,"al":4,"ah":5.5,"rl":2.5,"rh":4.5,"bl":6,"bh":7.5},
{"t":72,"al":4,"ah":6,"rl":3,"rh":5,"bl":7,"bh":8.5},
{"t":75,"al":4.5,"ah":6.5,"rl":2.5,"rh":4.5,"bl":7.5,"bh":9},
{"t":78,"al":4.5,"ah":6.5,"rl":0.5,"rh":4,"bl":8.5,"bh":10},
{"t":81,"al":5,"ah":6.5,"rl":2.5,"rh":5,"bl":9.5,"bh":11},
{"t":84,"al":5.5,"ah":7,"rl":3,"rh":5,"bl":8,"bh":10},
{"t":87,"al":5.5,"ah":7.5,"rl":2.5,"rh":4.5,"bl":7,"bh":9},
{"t":90,"al":5.5,"ah":7,"rl":3.5,"rh":5.5,"bl":6.5,"bh":8},
{"t":93,"al":5,"ah":6.5,"rl":4,"rh":6,"bl":6,"bh":7.5},
{"t":96,"al":4,"ah":5.5,"rl":4,"rh":6.5,"bl":5.5,"bh":7},
{"t":99,"al":3.5,"ah":5,"rl":3.5,"rh":6,"bl":5,"bh":6.5},
{"t":102,"al":3.5,"ah":5,"rl":4,"rh":6,"bl":4.5,"bh":5.5},
{"t":105,"al":3,"ah":4.5,"rl":3.5,"rh":5.5,"bl":4,"bh":5},
{"t":108,"al":3,"ah":4.5,"rl":3.5,"rh":5,"bl":3.8,"bh":4.8},
{"t":111,"al":3,"ah":4.5,"rl":3,"rh":4.5,"bl":3.5,"bh":4.5},
{"t":114,"al":3,"ah":4.5,"rl":3,"rh":4.5,"bl":3.2,"bh":4.2},
{"t":117,"al":5,"ah":7.5,"rl":3,"rh":5,"bl":3.3,"bh":4.5},
{"t":120,"al":6,"ah":9,"rl":3.5,"rh":5.5,"bl":3.5,"bh":4.5},
{"t":123,"al":6,"ah":10,"rl":4,"rh":7,"bl":3.2,"bh":4.2},
{"t":126,"al":6,"ah":8.5,"rl":4.5,"rh":7.5,"bl":3,"bh":4},
{"t":129,"al":6,"ah":8,"rl":4,"rh":7,"bl":2.5,"bh":4},
{"t":132,"al":6,"ah":8,"rl":4.5,"rh":7,"bl":3,"bh":4.2},
{"t":135,"al":5.5,"ah":7.5,"rl":4,"rh":6.5,"bl":3,"bh":4.5},
{"t":138,"al":6,"ah":7.5,"rl":3.5,"rh":6,"bl":2.8,"bh":4},
{"t":141,"al":5.5,"ah":7.5,"rl":4,"rh":6.5,"bl":2.5,"bh":3.5},
{"t":144,"al":6,"ah":8,"rl":3.5,"rh":6,"bl":2.2,"bh":3.3},
{"t":147,"al":6,"ah":7.5,"rl":3,"rh":5.5,"bl":2,"bh":3.2},
{"t":150,"al":5.5,"ah":7,"rl":3.5,"rh":6.5,"bl":1.8,"bh":3},
{"t":153,"al":6,"ah":7.5,"rl":4,"rh":7,"bl":1.5,"bh":3},
{"t":156,"al":6,"ah":8,"rl":4,"rh":6.5,"bl":2,"bh":3.2},
{"t":159,"al":5.5,"ah":7.5,"rl":3.5,"rh":6,"bl":2.5,"bh":3.5},
{"t":162,"al":6,"ah":8,"rl":4,"rh":6.5,"bl":2.8,"bh":4},
{"t":165,"al":6,"ah":8.5,"rl":4.5,"rh":7,"bl":2.5,"bh":4.5},
{"t":168,"al":5.5,"ah":7.5,"rl":4,"rh":6.5,"bl":2.5,"bh":4}
],
"th":[
{"t":0,"al":-80,"ah":60,"rl":-70,"rh":80,"bl":-40,"bh":35},
{"t":3,"al":-60,"ah":70,"rl":-50,"rh":70,"bl":-30,"bh":30},
{"t":6,"al":-90,"ah":50,"rl":-60,"rh":60,"bl":-45,"bh":25},
{"t":9,"al":-80,"ah":40,"rl":-75,"rh":30,"bl":-20,"bh":30},
{"t":12,"al":-70,"ah":30,"rl":-60,"rh":20,"bl":-25,"bh":20},
{"t":15,"al":-90,"ah":60,"rl":-70,"rh":10,"bl":-20,"bh":25},
{"t":18,"al":-60,"ah":80,"rl":-40,"rh":50,"bl":-15,"bh":25},
{"t":21,"al":-85,"ah":50,"rl":-30,"rh":70,"bl":-20,"bh":15},
{"t":24,"al":-60,"ah":70,"rl":-60,"rh":90,"bl":-10,"bh":30},
{"t":27,"al":-50,"ah":60,"rl":-30,"rh":60,"bl":-15,"bh":20},
{"t":30,"al":-40,"ah":80,"rl":-40,"rh":40,"bl":-25,"bh":25},
{"t":33,"al":-30,"ah":85,"rl":-70,"rh":20,"bl":-20,"bh":30},
{"t":36,"al":-20,"ah":70,"rl":-60,"rh":30,"bl":-60,"bh":40},
{"t":39,"al":-40,"ah":60,"rl":-90,"rh":10,"bl":-90,"bh":30},
{"t":42,"al":-60,"ah":50,"rl":-80,"rh":0,"bl":-70,"bh":20},
{"t":45,"al":-80,"ah":40,"rl":-50,"rh":40,"bl":10,"bh":60},
{"t":48,"al":-70,"ah":60,"rl":-60,"rh":0,"bl":15,"bh":65},
{"t":51,"al":-50,"ah":30,"rl":-90,"rh":-20,"bl":10,"bh":55},
{"t":54,"al":-80,"ah":40,"rl":-70,"rh":-10,"bl":-40,"bh":40},
{"t":57,"al":-90,"ah":20,"rl":-90,"rh":-30,"bl":-50,"bh":30},
{"t":60,"al":-60,"ah":50,"rl":-60,"rh":10,"bl":-30,"bh":35},
{"t":63,"al":-70,"ah":40,"rl":-50,"rh":30,"bl":-60,"bh":60},
{"t":66,"al":-50,"ah":90,"rl":-60,"rh":60,"bl":-20,"bh":90},
{"t":69,"al":-60,"ah":95,"rl":-80,"rh":70,"bl":-50,"bh":80},
{"t":72,"al":-80,"ah":60,"rl":-40,"rh":90,"bl":-30,"bh":60},
{"t":75,"al":-70,"ah":50,"rl":-20,"rh":80,"bl":-60,"bh":70},
{"t":78,"al":-90,"ah":40,"rl":-60,"rh":70,"bl":-70,"bh":50},
{"t":81,"al":-60,"ah":70,"rl":-80,"rh":50,"bl":-40,"bh":90},
{"t":84,"al":-80,"ah":80,"rl":-60,"rh":40,"bl":-60,"bh":70},
{"t":87,"al":-50,"ah":60,"rl":-40,"rh":60,"bl":-85,"bh":60},
{"t":90,"al":-90,"ah":50,"rl":-20,"rh":90,"bl":-50,"bh":80},
{"t":93,"al":-70,"ah":40,"rl":20,"rh":95,"bl":-30,"bh":70},
{"t":96,"al":-60,"ah":70,"rl":10,"rh":90,"bl":-70,"bh":60},
{"t":99,"al":-80,"ah":50,"rl":-60,"rh":70,"bl":-20,"bh":90},
{"t":102,"al":-90,"ah":60,"rl":-70,"rh":40,"bl":-30,"bh":60},
{"t":105,"al":-60,"ah":80,"rl":-50,"rh":60,"bl":-40,"bh":70},
{"t":108,"al":-70,"ah":50,"rl":-80,"rh":50,"bl":-80,"bh":60},
{"t":111,"al":-50,"ah":70,"rl":-60,"rh":80,"bl":-50,"bh":80},
{"t":114,"al":-80,"ah":90,"rl":-40,"rh":60,"bl":-60,"bh":90},
{"t":117,"al":-60,"ah":60,"rl":-70,"rh":40,"bl":-45,"bh":60},
{"t":120,"al":-70,"ah":80,"rl":-85,"rh":70,"bl":-70,"bh":70},
{"t":123,"al":-90,"ah":50,"rl":-50,"rh":90,"bl":-50,"bh":85},
{"t":126,"al":-60,"ah":70,"rl":-60,"rh":50,"bl":-80,"bh":60},
{"t":129,"al":-80,"ah":60,"rl":-80,"rh":60,"bl":-40,"bh":70},
{"t":132,"al":-50,"ah":85,"rl":-40,"rh":80,"bl":-60,"bh":90},
{"t":135,"al":-70,"ah":60,"rl":-70,"rh":40,"bl":-50,"bh":60},
{"t":138,"al":-90,"ah":50,"rl":-60,"rh":90,"bl":-85,"bh":70},
{"t":141,"al":-60,"ah":80,"rl":-80,"rh":50,"bl":-40,"bh":80},
{"t":144,"al":-80,"ah":70,"rl":-50,"rh":70,"bl":-60,"bh":60},
{"t":147,"al":-50,"ah":60,"rl":-70,"rh":80,"bl":-50,"bh":90},
{"t":150,"al":-90,"ah":80,"rl":-40,"rh":60,"bl":-70,"bh":50},
{"t":153,"al":-70,"ah":60,"rl":-85,"rh":50,"bl":-45,"bh":75},
{"t":156,"al":-60,"ah":70,"rl":-60,"rh":90,"bl":-85,"bh":60},
{"t":159,"al":-80,"ah":50,"rl":-80,"rh":60,"bl":-50,"bh":80},
{"t":162,"al":-70,"ah":80,"rl":-50,"rh":70,"bl":-60,"bh":70},
{"t":165,"al":-90,"ah":60,"rl":-70,"rh":80,"bl":-80,"bh":90},
{"t":168,"al":-60,"ah":70,"rl":-60,"rh":50,"bl":-40,"bh":60}
],
"ph":[
{"t":0,"al":260,"ah":340,"rl":20,"rh":250,"bl":30,"bh":180},
{"t":3,"al":250,"ah":340,"rl":60,"rh":200,"bl":40,"bh":170},
{"t":6,"al":240,"ah":330,"rl":80,"rh":170,"bl":60,"bh":150},
{"t":9,"al":230,"ah":320,"rl":60,"rh":150,"bl":80,"bh":140},
{"t":12,"al":150,"ah":300,"rl":40,"rh":130,"bl":90,"bh":140},
{"t":15,"al":120,"ah":280,"rl":50,"rh":160,"bl":90,"bh":150},
{"t":18,"al":150,"ah":300,"rl":70,"rh":150,"bl":95,"bh":140},
{"t":21,"al":100,"ah":250,"rl":100,"rh":280,"bl":90,"bh":150},
{"t":24,"al":130,"ah":260,"rl":120,"rh":310,"bl":100,"bh":150},
{"t":27,"al":150,"ah":240,"rl":90,"rh":180,"bl":100,"bh":145},
{"t":30,"al":160,"ah":240,"rl":40,"rh":160,"bl":95,"bh":140},
{"t":33,"al":150,"ah":230,"rl":20,"rh":170,"bl":90,"bh":140},
{"t":36,"al":120,"ah":220,"rl":10,"rh":150,"bl":70,"bh":130},
{"t":39,"al":80,"ah":200,"rl":0,"rh":120,"bl":0,"bh":180},
{"t":42,"al":60,"ah":180,"rl":0,"rh":100,"bl":200,"bh":360},
{"t":45,"al":30,"ah":150,"rl":10,"rh":90,"bl":270,"bh":360},
{"t":48,"al":20,"ah":130,"rl":0,"rh":80,"bl":280,"bh":360},
{"t":51,"al":40,"ah":160,"rl":10,"rh":90,"bl":290,"bh":360},
{"t":54,"al":20,"ah":120,"rl":20,"rh":100,"bl":280,"bh":360},
{"t":57,"al":10,"ah":140,"rl":0,"rh":80,"bl":270,"bh":360},
{"t":60,"al":30,"ah":150,"rl":10,"rh":90,"bl":250,"bh":360},
{"t":63,"al":20,"ah":200,"rl":0,"rh":100,"bl":260,"bh":360},
{"t":66,"al":100,"ah":340,"rl":10,"rh":110,"bl":290,"bh":360},
{"t":69,"al":150,"ah":360,"rl":0,"rh":100,"bl":280,"bh":360},
{"t":72,"al":200,"ah":350,"rl":50,"rh":130,"bl":270,"bh":360},
{"t":75,"al":150,"ah":300,"rl":80,"rh":170,"bl":250,"bh":360},
{"t":78,"al":100,"ah":250,"rl":120,"rh":220,"bl":200,"bh":360},
{"t":81,"al":50,"ah":200,"rl":180,"rh":300,"bl":100,"bh":360},
{"t":84,"al":80,"ah":250,"rl":100,"rh":280,"bl":150,"bh":360},
{"t":87,"al":100,"ah":300,"rl":0,"rh":200,"bl":270,"bh":360},
{"t":90,"al":150,"ah":330,"rl":150,"rh":330,"bl":280,"bh":360},
{"t":93,"al":200,"ah":360,"rl":220,"rh":340,"bl":230,"bh":360},
{"t":96,"al":100,"ah":300,"rl":180,"rh":300,"bl":270,"bh":360},
{"t":99,"al":0,"ah":200,"rl":250,"rh":360,"bl":150,"bh":360},
{"t":102,"al":50,"ah":250,"rl":280,"rh":360,"bl":200,"bh":360},
{"t":105,"al":100,"ah":300,"rl":260,"rh":360,"bl":280,"bh":360},
{"t":108,"al":0,"ah":150,"rl":200,"rh":350,"bl":270,"bh":360},
{"t":111,"al":50,"ah":250,"rl":270,"rh":360,"bl":180,"bh":360},
{"t":114,"al":150,"ah":330,"rl":250,"rh":360,"bl":280,"bh":360},
{"t":117,"al":200,"ah":360,"rl":200,"rh":340,"bl":260,"bh":360},
{"t":120,"al":100,"ah":300,"rl":270,"rh":360,"bl":200,"bh":360},
{"t":123,"al":150,"ah":330,"rl":260,"rh":360,"bl":280,"bh":360},
{"t":126,"al":200,"ah":360,"rl":220,"rh":350,"bl":270,"bh":360},
{"t":129,"al":50,"ah":250,"rl":260,"rh":360,"bl":150,"bh":360},
{"t":132,"al":100,"ah":300,"rl":270,"rh":360,"bl":260,"bh":360},
{"t":135,"al":150,"ah":330,"rl":240,"rh":360,"bl":200,"bh":360},
{"t":138,"al":200,"ah":360,"rl":200,"rh":350,"bl":270,"bh":360},
{"t":141,"al":100,"ah":300,"rl":270,"rh":360,"bl":280,"bh":360},
{"t":144,"al":150,"ah":330,"rl":240,"rh":360,"bl":220,"bh":360},
{"t":147,"al":200,"ah":360,"rl":260,"rh":360,"bl":270,"bh":360},
{"t":150,"al":50,"ah":250,"rl":0,"rh":120,"bl":160,"bh":360},
{"t":153,"al":100,"ah":300,"rl":0,"rh":100,"bl":260,"bh":360},
{"t":156,"al":150,"ah":330,"rl":10,"rh":90,"bl":280,"bh":360},
{"t":159,"al":200,"ah":360,"rl":0,"rh":80,"bl":200,"bh":360},
{"t":162,"al":100,"ah":300,"rl":20,"rh":120,"bl":270,"bh":360},
{"t":165,"al":150,"ah":330,"rl":0,"rh":100,"bl":250,"bh":360},
{"t":168,"al":200,"ah":360,"rl":10,"rh":90,"bl":280,"bh":360}
],
"ph2":[
{"t":42,"g":1,"lo":0,"hi":40},{"t":45,"g":1,"lo":0,"hi":30},{"t":48,"g":1,"lo":0,"hi":50},{"t":51,"g":1,"lo":0,"hi":20},{"t":54,"g":1,"lo":0,"hi":40},{"t":57,"g":1,"lo":0,"hi":30},{"t":60,"g":1,"lo":0,"hi":20},
{"t":78,"g":2,"lo":0,"hi":40},{"t":81,"g":2,"lo":0,"hi":80},{"t":84,"g":2,"lo":0,"hi":60},{"t":87,"g":2,"lo":0,"hi":40},{"t":90,"g":2,"lo":0,"hi":20},
{"t":99,"g":3,"lo":0,"hi":30},{"t":102,"g":3,"lo":0,"hi":60},{"t":105,"g":3,"lo":0,"hi":40},{"t":108,"g":3,"lo":0,"hi":50},{"t":111,"g":3,"lo":0,"hi":30},
{"t":129,"g":4,"lo":0,"hi":40},{"t":132,"g":4,"lo":0,"hi":60},{"t":135,"g":4,"lo":0,"hi":50},{"t":138,"g":4,"lo":0,"hi":30},
{"t":153,"g":5,"lo":0,"hi":30},{"t":156,"g":5,"lo":0,"hi":60},{"t":159,"g":5,"lo":0,"hi":40},{"t":162,"g":5,"lo":0,"hi":50},{"t":165,"g":5,"lo":0,"hi":30},{"t":168,"g":5,"lo":0,"hi":40}
],
"np":[
{"t":0,"al":1.2,"ah":2.7,"rl":3.5,"rh":6,"bl":2.8,"bh":4.5},
{"t":3,"al":1.1,"ah":2.5,"rl":3.5,"rh":6,"bl":2.8,"bh":4.2},
{"t":6,"al":1,"ah":2.4,"rl":3.8,"rh":6.2,"bl":2.7,"bh":4},
{"t":9,"al":0.8,"ah":2.2,"rl":3.5,"rh":6,"bl":2.8,"bh":4.1},
{"t":12,"al":0.9,"ah":2.4,"rl":4,"rh":7,"bl":2.7,"bh":3.9},
{"t":15,"al":0.7,"ah":2,"rl":4.2,"rh":7,"bl":2.2,"bh":3.5},
{"t":18,"al":0.8,"ah":2.2,"rl":4.5,"rh":7.5,"bl":2.3,"bh":3.4},
{"t":21,"al":0.9,"ah":2.8,"rl":4.5,"rh":7,"bl":2.8,"bh":3.8},
{"t":24,"al":0.8,"ah":2.5,"rl":4,"rh":6,"bl":2.9,"bh":3.9},
{"t":27,"al":0.8,"ah":2.4,"rl":3.8,"rh":5.2,"bl":2.8,"bh":4},
{"t":30,"al":1,"ah":2.6,"rl":3.6,"rh":5,"bl":3,"bh":4.1},
{"t":33,"al":1,"ah":2.8,"rl":3.5,"rh":4.8,"bl":3,"bh":4.2},
{"t":36,"al":0.9,"ah":2.5,"rl":3.5,"rh":4.8,"bl":3.1,"bh":4.3},
{"t":38,"bl":3,"bh":4.4},
{"t":39,"al":0.8,"ah":2.3,"rl":3,"rh":4.3,"bl":12,"bh":40},
{"t":40,"bl":15,"bh":45},
{"t":42,"al":0.9,"ah":2.4,"rl":2.8,"rh":4,"bl":18,"bh":28},
{"t":45,"al":0.8,"ah":2.2,"rl":2.7,"rh":3.8,"bl":12,"bh":22},
{"t":48,"al":0.7,"ah":2,"rl":2.9,"rh":4,"bl":4.5,"bh":7},
{"t":51,"al":0.6,"ah":1.8,"rl":3,"rh":4.2,"bl":4,"bh":6},
{"t":54,"al":0.6,"ah":1.8,"rl":3.5,"rh":5,"bl":5,"bh":7.5},
{"t":57,"al":0.8,"ah":2,"rl":4,"rh":6,"bl":8,"bh":11},
{"t":60,"al":3,"ah":6,"rl":4,"rh":6.5,"bl":9,"bh":13},
{"t":63,"al":4,"ah":9,"rl":4.5,"rh":7,"bl":10,"bh":14},
{"t":66,"al":3,"ah":30,"rl":4,"rh":6.5,"bl":9,"bh":15},
{"t":69,"al":1,"ah":3,"rl":3.5,"rh":5.5,"bl":5,"bh":10},
{"t":72,"al":1.2,"ah":2.8,"rl":3.5,"rh":5.5,"bl":6,"bh":10},
{"t":75,"al":2.5,"ah":5,"rl":3.8,"rh":6,"bl":7,"bh":12},
{"t":78,"al":3,"ah":6,"rl":4.5,"rh":7,"bl":5,"bh":9},
{"t":81,"al":3.5,"ah":6.5,"rl":6,"rh":10,"bl":6,"bh":11},
{"t":84,"al":4,"ah":7,"rl":7,"rh":12,"bl":8,"bh":12},
{"t":87,"al":5,"ah":8,"rl":8,"rh":13,"bl":6,"bh":10},
{"t":90,"al":5.5,"ah":9,"rl":7,"rh":12,"bl":7,"bh":12},
{"t":93,"al":6,"ah":11,"rl":9,"rh":16,"bl":5,"bh":10},
{"t":96,"al":6,"ah":12,"rl":20,"rh":32,"bl":3,"bh":5},
{"t":99,"al":5,"ah":10,"rl":10,"rh":18,"bl":2.2,"bh":4},
{"t":102,"al":4,"ah":8,"rl":8,"rh":13,"bl":2,"bh":3.5},
{"t":105,"al":4,"ah":7,"rl":8,"rh":12,"bl":2.5,"bh":4},
{"t":108,"al":4,"ah":7.5,"rl":7,"rh":11,"bl":1.5,"bh":3.5},
{"t":111,"al":5,"ah":9,"rl":5,"rh":8,"bl":2,"bh":3.5},
{"t":114,"al":6,"ah":10,"rl":4,"rh":6.5,"bl":2.5,"bh":4},
{"t":117,"al":6,"ah":11,"rl":4,"rh":6,"bl":2,"bh":3.5},
{"t":120,"al":6.5,"ah":12,"rl":5,"rh":8,"bl":2.5,"bh":4},
{"t":123,"al":7,"ah":13,"rl":6,"rh":9,"bl":1.8,"bh":3.5},
{"t":126,"al":6.5,"ah":12,"rl":6,"rh":9.5,"bl":2.5,"bh":4.2},
{"t":129,"al":6,"ah":11,"rl":6,"rh":9,"bl":3,"bh":4.5},
{"t":132,"al":3,"ah":6,"rl":5.5,"rh":8.5,"bl":2.5,"bh":4},
{"t":135,"al":2.5,"ah":5,"rl":6,"rh":9,"bl":2,"bh":3.5},
{"t":138,"al":2.5,"ah":4.5,"rl":6.5,"rh":10,"bl":1.8,"bh":3.2},
{"t":141,"al":2.2,"ah":4.2,"rl":6,"rh":9.5,"bl":2.5,"bh":4},
{"t":144,"al":2.5,"ah":4.5,"rl":6,"rh":9,"bl":2,"bh":3.5},
{"t":147,"al":2.2,"ah":4,"rl":6,"rh":9.5,"bl":1.5,"bh":3},
{"t":150,"al":2,"ah":4,"rl":6.5,"rh":10,"bl":1.8,"bh":3.2},
{"t":153,"al":2.5,"ah":4.5,"rl":6,"rh":9,"bl":1.5,"bh":3},
{"t":156,"al":2.5,"ah":4.2,"rl":5.5,"rh":8.5,"bl":1,"bh":2.5},
{"t":159,"al":2,"ah":4,"rl":6,"rh":9,"bl":0.9,"bh":2.2},
{"t":162,"al":2.2,"ah":4.5,"rl":6,"rh":9,"bl":1.5,"bh":3},
{"t":165,"al":2.5,"ah":4.5,"rl":5,"rh":8,"bl":2,"bh":3.5},
{"t":168,"al":2.5,"ah":4.2,"rl":6,"rh":9,"bl":2.2,"bh":3.5}
],
"vv":[
{"t":0,"al":470,"ah":510,"rl":430,"rh":470,"bl":480,"bh":515},
{"t":3,"al":470,"ah":505,"rl":420,"rh":460,"bl":470,"bh":505},
{"t":6,"al":465,"ah":500,"rl":420,"rh":465,"bl":460,"bh":495},
{"t":9,"al":460,"ah":500,"rl":410,"rh":455,"bl":450,"bh":485},
{"t":12,"al":470,"ah":520,"rl":415,"rh":460,"bl":440,"bh":475},
{"t":15,"al":475,"ah":525,"rl":410,"rh":450,"bl":430,"bh":465},
{"t":18,"al":470,"ah":515,"rl":420,"rh":460,"bl":425,"bh":455},
{"t":21,"al":460,"ah":500,"rl":415,"rh":455,"bl":395,"bh":440},
{"t":24,"al":440,"ah":475,"rl":420,"rh":465,"bl":365,"bh":385},
{"t":27,"al":435,"ah":470,"rl":440,"rh":490,"bl":358,"bh":375},
{"t":30,"al":435,"ah":465,"rl":450,"rh":520,"bl":350,"bh":368},
{"t":33,"al":430,"ah":465,"rl":450,"rh":510,"bl":345,"bh":360},
{"t":36,"al":430,"ah":460,"rl":430,"rh":480,"bl":335,"bh":352},
{"t":38,"bl":330,"bh":345},
{"t":39,"al":425,"ah":460,"rl":425,"rh":465,"bl":400,"bh":440},
{"t":42,"al":420,"ah":455,"rl":420,"rh":460,"bl":415,"bh":450},
{"t":45,"al":420,"ah":450,"rl":420,"rh":455,"bl":420,"bh":455},
{"t":48,"al":410,"ah":445,"rl":415,"rh":450,"bl":430,"bh":465},
{"t":51,"al":400,"ah":440,"rl":420,"rh":455,"bl":440,"bh":480},
{"t":54,"al":395,"ah":430,"rl":415,"rh":450,"bl":445,"bh":490},
{"t":57,"al":390,"ah":425,"rl":410,"rh":445,"bl":440,"bh":485},
{"t":60,"al":370,"ah":420,"rl":405,"rh":440,"bl":440,"bh":480},
{"t":63,"al":375,"ah":415,"rl":400,"rh":435,"bl":450,"bh":495},
{"t":66,"al":400,"ah":440,"rl":390,"rh":425,"bl":440,"bh":490},
{"t":69,"al":460,"ah":530,"rl":375,"rh":420,"bl":460,"bh":560},
{"t":72,"al":470,"ah":530,"rl":360,"rh":400,"bl":450,"bh":500},
{"t":75,"al":465,"ah":525,"rl":345,"rh":390,"bl":440,"bh":490},
{"t":78,"al":460,"ah":520,"rl":340,"rh":385,"bl":430,"bh":480},
{"t":81,"al":455,"ah":510,"rl":330,"rh":370,"bl":440,"bh":490},
{"t":84,"al":450,"ah":500,"rl":325,"rh":360,"bl":510,"bh":590},
{"t":87,"al":445,"ah":495,"rl":330,"rh":365,"bl":520,"bh":600},
{"t":90,"al":450,"ah":490,"rl":340,"rh":375,"bl":530,"bh":610},
{"t":93,"al":445,"ah":490,"rl":360,"rh":400,"bl":525,"bh":605},
{"t":96,"al":450,"ah":495,"rl":380,"rh":430,"bl":540,"bh":620},
{"t":99,"al":455,"ah":500,"rl":420,"rh":470,"bl":550,"bh":630},
{"t":102,"al":480,"ah":525,"rl":450,"rh":510,"bl":545,"bh":625},
{"t":105,"al":485,"ah":525,"rl":450,"rh":510,"bl":555,"bh":635},
{"t":108,"al":480,"ah":520,"rl":455,"rh":515,"bl":560,"bh":640},
{"t":111,"al":475,"ah":520,"rl":450,"rh":510,"bl":570,"bh":650},
{"t":114,"al":475,"ah":525,"rl":455,"rh":515,"bl":575,"bh":660},
{"t":117,"al":470,"ah":520,"rl":450,"rh":505,"bl":570,"bh":650},
{"t":120,"al":475,"ah":525,"rl":440,"rh":495,"bl":575,"bh":655},
{"t":123,"al":480,"ah":525,"rl":420,"rh":465,"bl":580,"bh":660},
{"t":126,"al":470,"ah":520,"rl":415,"rh":460,"bl":570,"bh":650},
{"t":129,"al":475,"ah":525,"rl":420,"rh":470,"bl":580,"bh":665},
{"t":132,"al":540,"ah":590,"rl":435,"rh":490,"bl":590,"bh":660},
{"t":135,"al":545,"ah":595,"rl":440,"rh":495,"bl":585,"bh":655},
{"t":138,"al":535,"ah":585,"rl":445,"rh":500,"bl":590,"bh":665},
{"t":141,"al":530,"ah":580,"rl":450,"rh":510,"bl":595,"bh":670},
{"t":144,"al":525,"ah":575,"rl":460,"rh":525,"bl":600,"bh":670},
{"t":147,"al":530,"ah":580,"rl":465,"rh":530,"bl":590,"bh":665},
{"t":150,"al":535,"ah":580,"rl":460,"rh":525,"bl":595,"bh":670},
{"t":153,"al":525,"ah":575,"rl":470,"rh":535,"bl":590,"bh":660},
{"t":156,"al":530,"ah":580,"rl":465,"rh":530,"bl":580,"bh":650},
{"t":159,"al":540,"ah":590,"rl":460,"rh":525,"bl":560,"bh":630},
{"t":162,"al":590,"ah":650,"rl":470,"rh":535,"bl":550,"bh":610},
{"t":165,"al":600,"ah":660,"rl":460,"rh":525,"bl":580,"bh":645},
{"t":168,"al":610,"ah":665,"rl":465,"rh":530,"bl":590,"bh":655}
],
"tp":[
{"t":0,"al":90000,"ah":180000,"rl":60000,"rh":110000,"bl":120000,"bh":260000},
{"t":3,"al":90000,"ah":170000,"rl":55000,"rh":100000,"bl":100000,"bh":250000},
{"t":6,"al":80000,"ah":160000,"rl":60000,"rh":120000,"bl":80000,"bh":170000},
{"t":9,"al":70000,"ah":150000,"rl":50000,"rh":90000,"bl":70000,"bh":150000},
{"t":12,"al":70000,"ah":140000,"rl":60000,"rh":100000,"bl":65000,"bh":130000},
{"t":15,"al":65000,"ah":130000,"rl":55000,"rh":100000,"bl":60000,"bh":95000},
{"t":18,"al":60000,"ah":120000,"rl":60000,"rh":110000,"bl":60000,"bh":90000},
{"t":21,"al":70000,"ah":130000,"rl":70000,"rh":130000,"bl":65000,"bh":230000},
{"t":24,"al":65000,"ah":120000,"rl":80000,"rh":150000,"bl":58000,"bh":85000},
{"t":27,"al":60000,"ah":110000,"rl":85000,"rh":140000,"bl":57000,"bh":85000},
{"t":30,"al":55000,"ah":110000,"rl":80000,"rh":150000,"bl":55000,"bh":80000},
{"t":33,"al":50000,"ah":100000,"rl":75000,"rh":130000,"bl":45000,"bh":75000},
{"t":36,"al":45000,"ah":90000,"rl":70000,"rh":120000,"bl":30000,"bh":60000},
{"t":39,"al":50000,"ah":95000,"rl":65000,"rh":110000,"bl":70000,"bh":110000},
{"t":42,"al":45000,"ah":90000,"rl":60000,"rh":100000,"bl":110000,"bh":200000},
{"t":45,"al":40000,"ah":85000,"rl":65000,"rh":110000,"bl":120000,"bh":210000},
{"t":48,"al":35000,"ah":80000,"rl":55000,"rh":90000,"bl":115000,"bh":200000},
{"t":51,"al":40000,"ah":85000,"rl":50000,"rh":80000,"bl":120000,"bh":190000},
{"t":54,"al":35000,"ah":75000,"rl":48000,"rh":75000,"bl":110000,"bh":190000},
{"t":57,"al":38000,"ah":80000,"rl":45000,"rh":75000,"bl":90000,"bh":160000},
{"t":60,"al":40000,"ah":85000,"rl":47000,"rh":75000,"bl":60000,"bh":100000},
{"t":63,"al":35000,"ah":75000,"rl":45000,"rh":70000,"bl":50000,"bh":80000},
{"t":66,"al":60000,"ah":150000,"rl":50000,"rh":80000,"bl":60000,"bh":110000},
{"t":69,"al":80000,"ah":200000,"rl":55000,"rh":90000,"bl":110000,"bh":250000},
{"t":72,"al":90000,"ah":190000,"rl":50000,"rh":80000,"bl":150000,"bh":300000},
{"t":75,"al":80000,"ah":180000,"rl":38000,"rh":60000,"bl":130000,"bh":280000},
{"t":78,"al":70000,"ah":160000,"rl":35000,"rh":55000,"bl":100000,"bh":200000},
{"t":81,"al":80000,"ah":170000,"rl":30000,"rh":50000,"bl":150000,"bh":330000},
{"t":84,"al":90000,"ah":200000,"rl":28000,"rh":45000,"bl":200000,"bh":350000},
{"t":87,"al":85000,"ah":190000,"rl":30000,"rh":50000,"bl":180000,"bh":330000},
{"t":90,"al":80000,"ah":180000,"rl":35000,"rh":55000,"bl":160000,"bh":300000},
{"t":93,"al":70000,"ah":160000,"rl":40000,"rh":70000,"bl":100000,"bh":250000},
{"t":96,"al":75000,"ah":170000,"rl":50000,"rh":90000,"bl":90000,"bh":200000},
{"t":99,"al":65000,"ah":150000,"rl":45000,"rh":80000,"bl":110000,"bh":230000},
{"t":102,"al":70000,"ah":160000,"rl":60000,"rh":100000,"bl":120000,"bh":250000},
{"t":105,"al":60000,"ah":140000,"rl":50000,"rh":90000,"bl":100000,"bh":220000},
{"t":108,"al":65000,"ah":150000,"rl":55000,"rh":90000,"bl":130000,"bh":260000},
{"t":111,"al":70000,"ah":160000,"rl":60000,"rh":95000,"bl":150000,"bh":280000},
{"t":114,"al":60000,"ah":140000,"rl":55000,"rh":90000,"bl":160000,"bh":300000},
{"t":117,"al":65000,"ah":150000,"rl":60000,"rh":100000,"bl":130000,"bh":250000},
{"t":120,"al":60000,"ah":140000,"rl":55000,"rh":95000,"bl":100000,"bh":200000},
{"t":123,"al":70000,"ah":160000,"rl":60000,"rh":100000,"bl":110000,"bh":220000},
{"t":126,"al":65000,"ah":150000,"rl":65000,"rh":110000,"bl":90000,"bh":180000},
{"t":129,"al":80000,"ah":170000,"rl":70000,"rh":120000,"bl":100000,"bh":230000},
{"t":132,"al":180000,"ah":400000,"rl":75000,"rh":125000,"bl":80000,"bh":160000},
{"t":135,"al":200000,"ah":450000,"rl":80000,"rh":140000,"bl":90000,"bh":200000},
{"t":138,"al":180000,"ah":380000,"rl":75000,"rh":130000,"bl":110000,"bh":220000},
{"t":141,"al":150000,"ah":330000,"rl":80000,"rh":140000,"bl":100000,"bh":190000},
{"t":144,"al":130000,"ah":300000,"rl":85000,"rh":150000,"bl":120000,"bh":230000},
{"t":147,"al":140000,"ah":320000,"rl":80000,"rh":140000,"bl":90000,"bh":200000},
{"t":150,"al":130000,"ah":280000,"rl":75000,"rh":130000,"bl":110000,"bh":220000},
{"t":153,"al":120000,"ah":270000,"rl":80000,"rh":140000,"bl":80000,"bh":180000},
{"t":156,"al":140000,"ah":300000,"rl":85000,"rh":150000,"bl":100000,"bh":210000},
{"t":159,"al":130000,"ah":280000,"rl":75000,"rh":130000,"bl":70000,"bh":180000},
{"t":162,"al":150000,"ah":320000,"rl":80000,"rh":140000,"bl":90000,"bh":200000},
{"t":165,"al":160000,"ah":330000,"rl":75000,"rh":130000,"bl":100000,"bh":220000},
{"t":168,"al":150000,"ah":300000,"rl":80000,"rh":140000,"bl":90000,"bh":200000}
]
}
}
